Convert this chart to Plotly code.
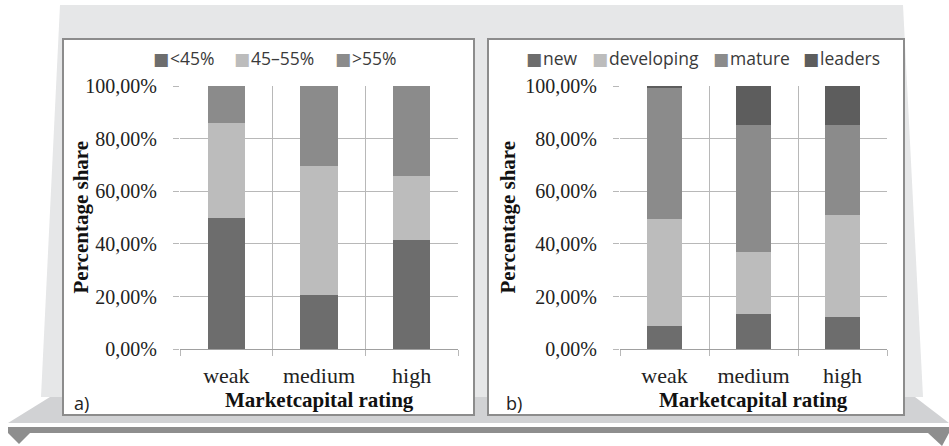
import plotly.graph_objects as go

W, H = 949, 446

ratings = ["weak", "medium", "high"]

# a) share of companies by ratio band
share_lt45 = [50.0, 20.8, 41.5]
share_45_55 = [36.0, 48.8, 24.3]
share_gt55 = [14.0, 30.4, 34.2]

# b) share of companies by development stage
stage_new = [8.7, 13.3, 12.2]
stage_developing = [40.8, 23.8, 38.8]
stage_mature = [49.6, 48.2, 34.3]
stage_leaders = [0.9, 14.7, 14.7]

y_ticks = [0, 20, 40, 60, 80, 100]
y_tick_labels = ["0,00%", "20,00%", "40,00%", "60,00%", "80,00%", "100,00%"]


def px(x):
    return x / W


def py(y):
    return 1 - y / H


def poly(points):
    return "M " + " L ".join(f"{px(x)},{py(y)}" for x, y in points) + " Z"


SERIF = "Liberation Serif"
SANS = "Open Sans"
GRID = "#b8b8b8"

fig = go.Figure()

series_a = [
    ("<45%", share_lt45, "#6d6d6d"),
    ("45–55%", share_45_55, "#bcbcbc"),
    (">55%", share_gt55, "#8b8b8b"),
]
series_b = [
    ("new", stage_new, "#6d6d6d"),
    ("developing", stage_developing, "#bcbcbc"),
    ("mature", stage_mature, "#8b8b8b"),
    ("leaders", stage_leaders, "#5d5d5d"),
]

for series, xa, ya in [(series_a, "x", "y"), (series_b, "x2", "y2")]:
    for name, vals, col in series:
        fig.add_trace(go.Bar(x=ratings, y=vals, name=name,
                             marker=dict(color=col, line=dict(width=0)),
                             xaxis=xa, yaxis=ya, showlegend=False))


def xax(domain, anchor):
    return dict(domain=domain, anchor=anchor, type="category", tickson="boundaries",
                showgrid=True, gridcolor=GRID, gridwidth=1, ticks="outside", ticklen=6,
                tickcolor=GRID, showline=True, linecolor="#a0a0a0", linewidth=1,
                tickfont=dict(family=SERIF, size=22, color="#222"), ticklabelstandoff=6,
                automargin=False, fixedrange=True)


def yax(anchor):
    return dict(domain=[py(349.3), py(86)], anchor=anchor, range=[0, 100],
                tickmode="array", tickvals=y_ticks, ticktext=y_tick_labels,
                showgrid=True, gridcolor=GRID, gridwidth=1,
                zeroline=False, showline=False, ticks="outside", ticklen=6, tickcolor=GRID,
                tickfont=dict(family=SERIF, size=20, color="#222"), ticklabelstandoff=12,
                automargin=False, fixedrange=True)


shapes = [
    # backdrop panel
    dict(type="path", path=poly([(60, 5), (903, 5), (923, 397), (41, 397)]),
         fillcolor="#e6e7e8", line=dict(width=0)),
    # floor
    dict(type="path", path=poly([(50, 397), (915, 397), (949, 423), (8, 423)]),
         fillcolor="#d1d2d4", line=dict(width=0)),
    # strip with end arrows
    dict(type="rect", x0=px(8), x1=px(949), y0=py(433), y1=py(427),
         fillcolor="#8e8e8e", line=dict(width=0)),
    dict(type="path", path=poly([(8, 433), (30, 433), (19, 444)]),
         fillcolor="#8e8e8e", line=dict(width=0)),
    dict(type="path", path=poly([(928, 433), (949, 433), (942, 446)]),
         fillcolor="#8e8e8e", line=dict(width=0)),
    # chart frames
    dict(type="rect", x0=px(63), x1=px(474), y0=py(415), y1=py(39),
         fillcolor="white", line=dict(color="#8c8c8c", width=2)),
    dict(type="rect", x0=px(488), x1=px(904), y0=py(415), y1=py(39),
         fillcolor="white", line=dict(color="#8c8c8c", width=2)),
]
for s in shapes:
    s.update(xref="paper", yref="paper", layer="below")

annotations = []
for cx in [319, 753.5]:
    annotations.append(dict(text="Marketcapital rating", x=px(cx), y=py(400), xref="paper", yref="paper",
                            showarrow=False, xanchor="center", yanchor="middle",
                            font=dict(family=SERIF, size=21, color="#111", weight="bold")))
for cx in [80, 507]:
    annotations.append(dict(text="Percentage share", x=px(cx), y=py(217.5), xref="paper", yref="paper",
                            showarrow=False, textangle=-90, xanchor="center", yanchor="middle",
                            font=dict(family=SERIF, size=21, color="#111", weight="bold")))
for cx, label in [(81, "a)"), (514, "b)")]:
    annotations.append(dict(text=label, x=px(cx), y=py(403), xref="paper", yref="paper",
                            showarrow=False, xanchor="center", yanchor="middle",
                            font=dict(family=SANS, size=18, color="#222")))


# legend rows: swatch + series name, laid out left to right
def esc(t):
    return t.replace("<", "&lt;").replace(">", "&gt;")


legend_rows = [
    (series_a, [152, 233, 334]),
    (series_b, [525, 591, 712, 802]),
]
for series, x_starts in legend_rows:
    for (name, _, col), x0 in zip(series, x_starts):
        annotations.append(dict(
            text="■", x=px(x0 - 1), y=py(59), xref="paper", yref="paper", showarrow=False,
            xanchor="left", yanchor="middle",
            font=dict(family="DejaVu Sans", size=17, color=col)))
        annotations.append(dict(
            text=esc(name), x=px(x0 + 16), y=py(58), xref="paper", yref="paper", showarrow=False,
            xanchor="left", yanchor="middle",
            font=dict(family=SANS, size=17.5, color="#3a3a3a")))

fig.update_layout(
    width=W, height=H, autosize=False, margin=dict(l=0, r=0, t=0, b=0, pad=0, autoexpand=False),
    paper_bgcolor="white", plot_bgcolor="rgba(0,0,0,0)",
    barmode="stack", bargap=0.6, showlegend=False,
    xaxis=xax([px(180), px(458)], "y"), yaxis=yax("x"),
    xaxis2=xax([px(620), px(887)], "y2"), yaxis2=yax("x2"),
    shapes=shapes, annotations=annotations,
)

fig.write_html("out.html", config={"responsive": False})
